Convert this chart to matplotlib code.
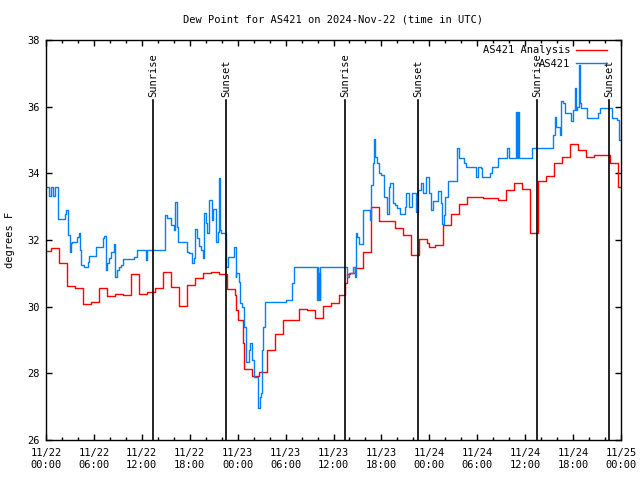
import numpy as np
import pandas as pd
import matplotlib
matplotlib.use('Agg')
import matplotlib.pyplot as plt
import matplotlib.dates as mdates

start = pd.Timestamp('2024-11-22 00:00')

# AS421 Analysis (hourly steps), hours since start
red_hours = [0.0, 0.66, 1.66, 2.66, 3.66, 4.66, 5.66, 6.66, 7.66, 8.66, 9.66,
             10.66, 11.66, 12.66, 13.66, 14.66, 15.66, 16.66, 17.66, 18.66,
             19.66, 20.66, 21.66, 22.66, 23.66, 23.85, 24.0, 24.66, 24.8,
             25.75, 26.66, 27.66, 28.66, 29.66, 31.66, 32.66, 33.66, 34.66,
             35.66, 36.66, 37.5, 37.66, 38.07, 38.66, 39.66, 40.66, 41.66,
             43.66, 44.66, 45.66, 46.66, 47.66, 48.0, 48.66, 49.66, 50.66,
             51.66, 52.66, 53.66, 54.66, 56.66, 57.66, 58.66, 59.66, 60.66,
             61.66, 62.66, 63.66, 64.66, 65.66, 66.66, 67.66, 68.66, 70.66,
             71.66, 72.0]
red_vals = [31.67, 31.75, 31.30, 30.61, 30.56, 30.07, 30.13, 30.55, 30.31,
            30.39, 30.34, 30.97, 30.37, 30.43, 30.56, 31.03, 30.58, 30.01,
            30.64, 30.86, 31.00, 31.04, 30.98, 30.53, 30.35, 29.9, 29.6,
            28.9, 28.13, 27.91, 28.04, 28.69, 29.18, 29.6, 29.92, 29.9, 29.65,
            30.01, 30.1, 30.34, 30.7, 30.97, 31.0, 31.16, 31.64, 32.98, 32.57,
            32.35, 32.14, 31.54, 32.03, 31.9, 31.78, 31.84, 32.46, 32.79,
            33.07, 33.3, 33.28, 33.25, 33.2, 33.49, 33.71, 33.52, 32.2, 33.76,
            33.91, 34.3, 34.5, 34.89, 34.7, 34.48, 34.54, 34.3, 33.6, 33.6]

# AS421 observations, hours since start
blue_hours = [0.0, 0.42, 0.67, 0.83, 1.08, 1.5, 2.34, 2.5, 2.75, 2.95, 3.1,
              3.3, 3.9, 4.1, 4.25, 4.4, 4.7, 5.2, 5.35, 6.2, 7.1, 7.3, 7.5,
              7.7, 7.9, 8.1, 8.5, 8.7, 8.85, 9.1, 9.4, 9.7, 11.0, 11.35, 12.5,
              12.6, 14.85, 15.1, 15.6, 16.0, 16.2, 16.35, 16.55, 17.6, 17.9,
              18.3, 18.5, 18.6, 18.9, 19.1, 19.4, 19.6, 19.8, 20.0, 20.2, 20.4,
              20.8, 20.9, 21.3, 21.5, 21.7, 21.75, 21.9, 22.6, 22.75, 23.5,
              23.75, 23.85, 24.15, 24.3, 24.5, 24.8, 25.1, 25.4, 25.6, 25.8,
              26.0, 26.6, 26.75, 26.9, 27.05, 27.2, 27.45, 30.1, 30.8, 31.0,
              33.9, 34.0, 34.05, 34.15, 34.25, 34.35, 37.7, 38.0, 38.5, 38.65,
              38.8, 39.0, 39.2, 39.7, 40.6, 40.7, 40.9, 41.1, 41.2, 41.5, 41.7,
              42.0, 42.3, 42.7, 42.9, 43.1, 43.4, 43.7, 44.0, 44.3, 44.9, 45.1,
              45.5, 45.8, 46.3, 46.6, 46.9, 47.2, 47.6, 48.0, 48.2, 48.4, 49.1,
              49.4, 49.6, 49.8, 50.0, 50.3, 51.5, 51.7, 52.4, 52.6, 53.85,
              54.1, 54.43, 54.64, 55.6, 55.9, 56.6, 57.77, 57.98, 58.9, 58.95,
              59.15, 59.2, 60.9, 63.5, 63.7, 63.8, 64.4, 64.5, 64.7, 64.95,
              65.7, 66.0, 66.2, 66.37, 66.5, 66.8, 66.87, 67.0, 67.7, 69.1,
              69.4, 70.9, 71.55, 71.8, 72.0]
blue_vals = [33.6, 33.32, 33.6, 33.32, 33.6, 32.62, 32.78, 32.9, 32.15, 31.65,
             31.9, 31.95, 32.1, 32.22, 31.7, 31.25, 31.2, 31.35, 31.52, 31.8,
             32.05, 32.12, 31.1, 31.3, 31.45, 31.65, 31.88, 30.9, 31.1, 31.2,
             31.25, 31.42, 31.5, 31.7, 31.4, 31.7, 32.75, 32.65, 32.45, 32.3,
             33.15, 32.4, 31.95, 31.65, 31.6, 31.3, 31.45, 32.32, 32.05, 31.83,
             31.7, 31.45, 32.8, 32.5, 32.2, 33.2, 32.6, 32.92, 31.95, 32.25,
             33.85, 32.3, 32.22, 31.2, 31.5, 31.78, 30.9, 31.0, 30.75, 30.1,
             30.0, 29.4, 28.35, 28.7, 28.9, 28.4, 27.9, 26.96, 27.3, 27.4,
             28.7, 29.4, 30.15, 30.2, 30.7, 31.18, 30.2, 31.18, 30.2, 31.0,
             30.2, 31.18, 30.9, 31.0, 31.18, 30.9, 32.2, 32.1, 31.88, 32.9,
             32.6, 33.65, 34.3, 35.02, 34.5, 34.3, 34.0, 33.95, 33.3, 32.77,
             33.6, 33.7, 33.1, 33.05, 32.95, 32.78, 33.0, 33.4, 33.0, 33.4,
             32.85, 33.5, 33.7, 33.4, 33.9, 33.4, 32.9, 33.18, 33.48, 33.1,
             32.48, 32.75, 33.3, 33.77, 34.75, 34.45, 34.3, 34.18, 33.9, 34.2,
             34.15, 33.88, 34.0, 34.18, 34.45, 34.75, 34.45, 35.85, 34.45,
             35.85, 34.45, 34.75, 35.15, 35.7, 35.4, 35.15, 36.18, 36.1, 35.8,
             35.58, 35.9, 36.55, 35.9, 36.0, 37.25, 36.1, 35.97, 35.67, 35.8,
             35.95, 35.65, 35.6, 35.0, 35.0]

sun_hours = [13.45, 22.58, 37.5, 46.6, 61.52, 70.55]
sun_labels = ['Sunrise', 'Sunset', 'Sunrise', 'Sunset', 'Sunrise', 'Sunset']


def to_time(hours):
    return start + pd.to_timedelta(np.array(hours), unit='h')


font = 'DejaVu Sans Mono'
fs = 7.5
plt.rcParams['font.family'] = font
plt.rcParams['font.size'] = fs

fig = plt.figure(figsize=(6.4, 4.8), dpi=100)
ax = fig.add_axes([46 / 640, 40 / 480, 575 / 640, 400 / 480])

ax.plot(to_time(red_hours), red_vals, drawstyle='steps-post', color='#ff0000',
        lw=1.0, label='AS421 Analysis')
ax.plot(to_time(blue_hours), blue_vals, drawstyle='steps-post', color='#0080ff',
        lw=1.0, label='AS421')

for h, lab in zip(sun_hours, sun_labels):
    t = to_time([h])[0]
    ax.plot([t, t], [26, 36.2], color='black', lw=1.2, zorder=3)
    ax.text(t, 36.3, lab, rotation=90, ha='center', va='bottom', fontsize=fs)

ax.set_xlim(start, start + pd.Timedelta(hours=72))
ax.set_ylim(26, 38)
ax.set_yticks(np.arange(26, 39, 2))
ax.xaxis.set_major_locator(mdates.HourLocator(byhour=[0, 6, 12, 18]))
ax.xaxis.set_minor_locator(mdates.HourLocator(interval=2))
ax.xaxis.set_major_formatter(mdates.DateFormatter('%m/%d\n%H:%M'))

ax.tick_params(which='both', direction='in', top=True, right=True, width=1)
ax.tick_params(which='major', length=4.5)
ax.tick_params(which='minor', length=2.5)
ax.tick_params(axis='y', pad=4.5)
ax.tick_params(axis='x', pad=6)
for s in ax.spines.values():
    s.set_linewidth(1)

ax.legend(loc='upper right', bbox_to_anchor=(1 - 9 / 575, 1), frameon=False,
          markerfirst=False, handlelength=3, borderaxespad=0.1,
          labelspacing=0.35, handletextpad=0.5)

fig.text(333 / 640, 1 - 20 / 480, 'Dew Point for AS421 on 2024-Nov-22 (time in UTC)',
         ha='center', va='center', fontsize=fs)
fig.text(10 / 640, 0.5, 'degrees F', rotation=90, ha='center', va='center',
         fontsize=fs)

fig.savefig('out.png', dpi=100)
